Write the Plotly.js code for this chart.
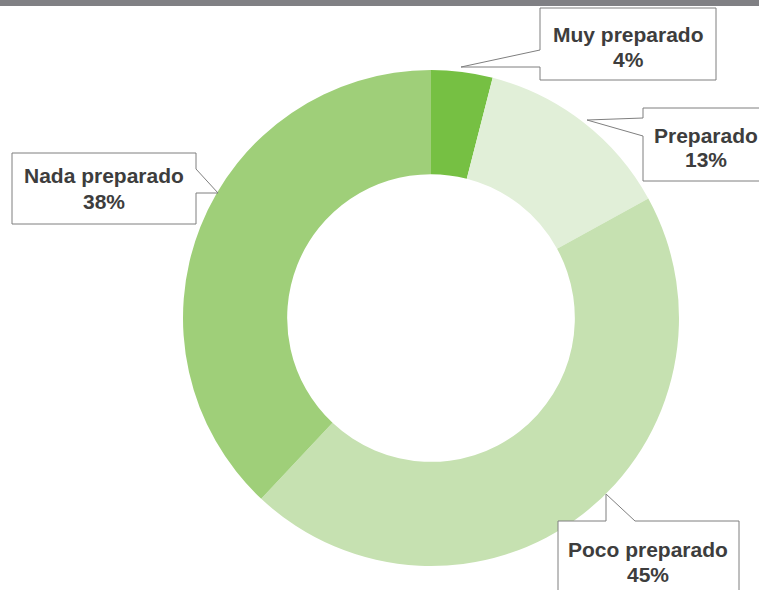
<!DOCTYPE html>
<html><head><meta charset="utf-8">
<script src="https://cdn.plot.ly/plotly-3.0.1.min.js"></script>
<style>html,body{margin:0;padding:0;background:#fff}#chart{width:759px;height:590px}</style>
</head><body><div id="chart"></div>
<script>
const categories = ["Muy preparado", "Preparado", "Poco preparado", "Nada preparado"];
const values = [4, 13, 45, 38];
const colors = ["#76c043", "#e1efd8", "#c6e1b1", "#9fcf79"];

const W = 759, H = 590;
const px = x => x / W, py = y => 1 - y / H;
function path(pts){ return 'M' + pts.map(p => px(p[0]) + ',' + py(p[1])).join(' L') + ' Z'; }

const boxes = [
  // Muy preparado: pointer on left edge
  {pts:[[540,8],[716,8],[716,80],[540,80],[540,67],[461,67],[540,50]], cx:628, y1:35, y2:60, i:0},
  // Preparado
  {pts:[[643,108],[770,108],[770,181],[643,181],[643,136],[587,120],[643,118]], cx:706, y1:135, y2:160, i:1},
  // Nada preparado: pointer on right edge
  {pts:[[12,153],[196,153],[196,169],[218,193],[196,193],[196,224],[12,224]], cx:104, y1:175, y2:201, i:3},
  // Poco preparado: pointer on top edge
  {pts:[[558,521],[606,521],[606,494],[635,521],[739,521],[739,600],[558,600]], cx:648, y1:549, y2:574, i:2}
];

const shapes = [{type:'rect', xref:'paper', yref:'paper', x0:0, x1:1, y0:py(6), y1:1, fillcolor:'#808084', line:{width:0}, layer:'above'}];
const annotations = [];
const font = {family:'"Liberation Sans", Arial, sans-serif', size:21, color:'#3d3d3d', weight:'bold'};
boxes.forEach(b => {
  shapes.push({type:'path', xref:'paper', yref:'paper', path:path(b.pts), fillcolor:'#ffffff', line:{color:'#7f7f7f', width:1}, layer:'above'});
  annotations.push({xref:'paper', yref:'paper', x:px(b.cx), y:py(b.y1), text:'<b>'+categories[b.i]+'</b>', showarrow:false, font:font, xanchor:'center', yanchor:'middle'});
  annotations.push({xref:'paper', yref:'paper', x:px(b.cx), y:py(b.y2), text:'<b>'+values[b.i]+'%</b>', showarrow:false, font:font, xanchor:'center', yanchor:'middle'});
});

const cx = 431, cy = 318, R = 248;
const data = [{
  type:'pie', labels:categories, values:values, hole:0.58, sort:false, direction:'clockwise', rotation:0,
  marker:{colors:colors, line:{width:0}}, textinfo:'none', hoverinfo:'label+percent',
  domain:{x:[px(cx-R), px(cx+R)], y:[py(cy+R), py(cy-R)]}
}];
const layout = {width:W, height:H, margin:{l:0,r:0,t:0,b:0}, showlegend:false, paper_bgcolor:'#fff', shapes:shapes, annotations:annotations};
Plotly.newPlot('chart', data, layout, {displayModeBar:false, staticPlot:true});
</script></body></html>
